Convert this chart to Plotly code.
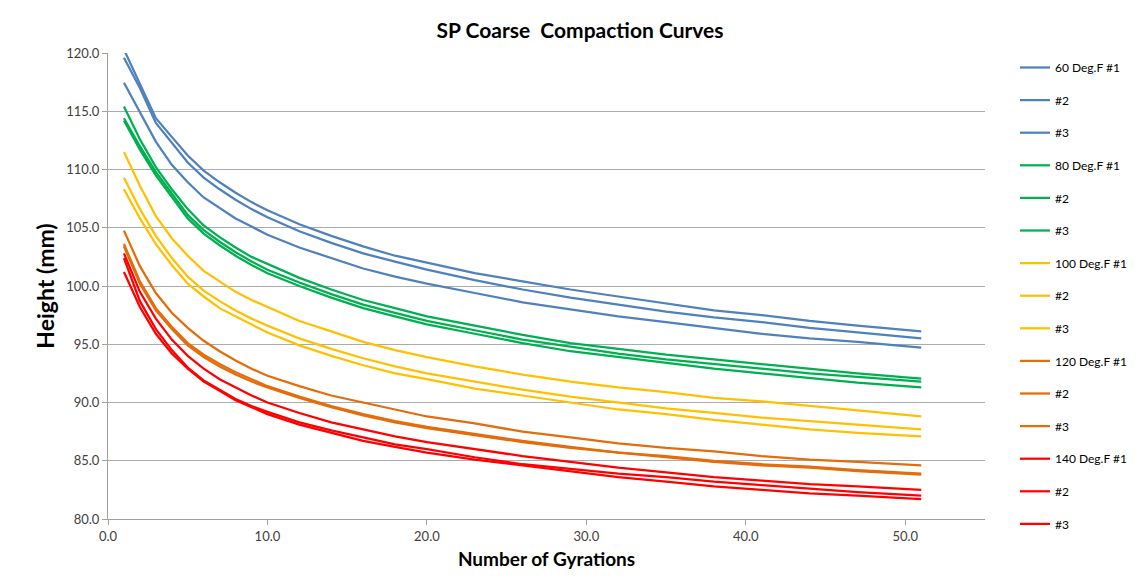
import plotly.graph_objects as go

gyrations = [1, 2, 3, 4, 5, 6, 7, 8, 9, 10, 12, 14, 16, 18, 20, 23, 26, 29, 32, 35, 38, 41, 44, 47, 51]

h60_1 = [120.3, 117.4, 114.4, 112.8, 111.2, 109.9, 108.9, 108.0, 107.2, 106.5, 105.3, 104.3, 103.4, 102.6, 102.0, 101.1, 100.4, 99.7, 99.1, 98.5, 97.9, 97.5, 97.0, 96.6, 96.1]
h60_2 = [119.6, 117.0, 114.0, 112.3, 110.6, 109.3, 108.3, 107.4, 106.6, 105.9, 104.7, 103.7, 102.8, 102.1, 101.4, 100.5, 99.7, 99.0, 98.4, 97.8, 97.3, 96.9, 96.4, 96.0, 95.5]
h60_3 = [117.45, 114.9, 112.4, 110.4, 108.9, 107.6, 106.7, 105.8, 105.1, 104.4, 103.3, 102.4, 101.5, 100.8, 100.2, 99.4, 98.6, 98.0, 97.4, 96.9, 96.4, 95.9, 95.5, 95.2, 94.7]
h80_1 = [115.4, 112.6, 110.2, 108.3, 106.6, 105.2, 104.2, 103.3, 102.5, 101.9, 100.7, 99.7, 98.8, 98.1, 97.4, 96.6, 95.8, 95.1, 94.6, 94.1, 93.7, 93.3, 92.9, 92.5, 92.05]
h80_2 = [114.4, 112.0, 109.8, 107.9, 106.1, 104.8, 103.8, 102.9, 102.1, 101.4, 100.3, 99.3, 98.4, 97.7, 97.0, 96.2, 95.4, 94.8, 94.2, 93.7, 93.3, 92.9, 92.5, 92.2, 91.8]
h80_3 = [114.2, 111.7, 109.5, 107.6, 105.8, 104.5, 103.5, 102.6, 101.8, 101.1, 100.0, 99.0, 98.1, 97.4, 96.7, 95.9, 95.1, 94.4, 93.9, 93.4, 92.9, 92.5, 92.1, 91.7, 91.3]
h100_1 = [111.5, 108.6, 106.0, 104.1, 102.6, 101.3, 100.4, 99.5, 98.8, 98.2, 97.0, 96.1, 95.2, 94.5, 93.9, 93.1, 92.4, 91.8, 91.3, 90.9, 90.4, 90.1, 89.7, 89.3, 88.8]
h100_2 = [109.3, 106.6, 104.3, 102.4, 100.8, 99.6, 98.7, 97.9, 97.2, 96.6, 95.5, 94.6, 93.8, 93.1, 92.5, 91.8, 91.1, 90.5, 90.0, 89.5, 89.1, 88.7, 88.4, 88.1, 87.7]
h100_3 = [108.3, 105.8, 103.6, 101.8, 100.2, 99.1, 98.1, 97.4, 96.7, 96.0, 94.9, 94.0, 93.2, 92.5, 92.0, 91.2, 90.6, 90.0, 89.4, 89.0, 88.5, 88.1, 87.7, 87.4, 87.1]
h120_1 = [104.75, 101.7, 99.4, 97.7, 96.4, 95.3, 94.4, 93.6, 92.9, 92.3, 91.4, 90.6, 90.0, 89.4, 88.8, 88.2, 87.5, 87.0, 86.5, 86.1, 85.8, 85.4, 85.1, 84.9, 84.6]
h120_2 = [103.6, 100.4, 98.1, 96.5, 95.1, 94.1, 93.3, 92.6, 92.0, 91.4, 90.5, 89.7, 89.0, 88.4, 87.9, 87.3, 86.7, 86.2, 85.7, 85.4, 85.0, 84.7, 84.5, 84.2, 83.9]
h120_3 = [103.4, 100.2, 97.9, 96.3, 94.9, 93.9, 93.1, 92.4, 91.8, 91.3, 90.4, 89.6, 88.9, 88.3, 87.8, 87.2, 86.6, 86.1, 85.7, 85.3, 84.9, 84.6, 84.4, 84.1, 83.8]
h140_1 = [102.8, 99.5, 97.2, 95.4, 94.0, 92.9, 92.0, 91.3, 90.6, 90.0, 89.1, 88.3, 87.7, 87.1, 86.6, 86.0, 85.4, 84.9, 84.4, 84.0, 83.6, 83.3, 83.0, 82.8, 82.5]
h140_2 = [102.4, 98.7, 96.3, 94.5, 93.0, 91.9, 91.1, 90.3, 89.7, 89.2, 88.3, 87.6, 87.0, 86.4, 86.0, 85.3, 84.7, 84.3, 83.9, 83.6, 83.2, 82.9, 82.6, 82.3, 82.0]
h140_3 = [101.2, 98.2, 95.9, 94.2, 92.9, 91.8, 91.0, 90.2, 89.6, 89.0, 88.1, 87.4, 86.7, 86.2, 85.7, 85.1, 84.6, 84.1, 83.6, 83.2, 82.8, 82.5, 82.2, 82.0, 81.7]

series_names = ["60 Deg.F #1", "#2", "#3", "80 Deg.F #1", "#2", "#3",
                "100 Deg.F #1", "#2", "#3", "120 Deg.F #1", "#2", "#3",
                "140 Deg.F #1", "#2", "#3"]
series_values = [h60_1, h60_2, h60_3, h80_1, h80_2, h80_3, h100_1, h100_2, h100_3,
                 h120_1, h120_2, h120_3, h140_1, h140_2, h140_3]
group_colors = ["#4F81BD", "#00B050", "#FFC000", "#E46C0A", "#FF0000"]

x_ticks = [0, 10, 20, 30, 40, 50]
y_ticks = [80, 85, 90, 95, 100, 105, 110, 115, 120]

W, H = 1144, 578
# page body has an 8px margin, so figure coordinates are offset by 8px
L, R, T, B = 100, 167, 45, 67
pw, ph = W - L - R, H - T - B

fig = go.Figure()
for i, (name, vals) in enumerate(zip(series_names, series_values)):
    fig.add_trace(go.Scatter(
        x=gyrations, y=vals, mode="lines", name=name,
        line=dict(color=group_colors[i // 3], width=2.25),
        legendgroup=f"g{i}",
    ))

fig.update_layout(
    width=W, height=H,
    margin=dict(l=L, r=R, t=T, b=B),
    paper_bgcolor="white", plot_bgcolor="white",
    font=dict(family="Lato, 'Open Sans', sans-serif", color="#404040"),
    title=dict(text="<b>SP Coarse  Compaction Curves</b>", x=(572) / W, xanchor="center",
               y=1 - 23 / H, yanchor="middle", font=dict(size=21, color="#000000")),
    xaxis=dict(range=[0, 55], tickvals=x_ticks, ticktext=[f"{v:.1f}" for v in x_ticks],
               showgrid=False, zeroline=False, showline=True, linecolor="#A0A0A0", linewidth=1,
               ticks="outside", ticklen=5, tickcolor="#A0A0A0",
               tickfont=dict(size=13, color="#404040"),
               title=dict(text="<b>Number of Gyrations</b>", font=dict(size=19, color="#000000"), standoff=10)),
    yaxis=dict(range=[80, 120], tickvals=y_ticks, ticktext=[f"{v:.1f}" for v in y_ticks],
               showgrid=True, gridcolor="#ABABAB", gridwidth=1, zeroline=False,
               showline=True, linecolor="#A0A0A0", linewidth=1,
               ticks="outside", ticklen=5, tickcolor="#A0A0A0",
               tickfont=dict(size=13, color="#404040"),
               title=dict(text="<b>Height (mm)</b>", font=dict(size=23, color="#000000"), standoff=5)),
    legend=dict(x=(1007 - L) / pw, xanchor="left", y=1.0, yanchor="top",
                font=dict(size=12, color="#000000"), tracegroupgap=13.6,
                bgcolor="rgba(0,0,0,0)", itemwidth=30, maxheight=560),
    showlegend=True,
)

fig.write_html("out.html")
